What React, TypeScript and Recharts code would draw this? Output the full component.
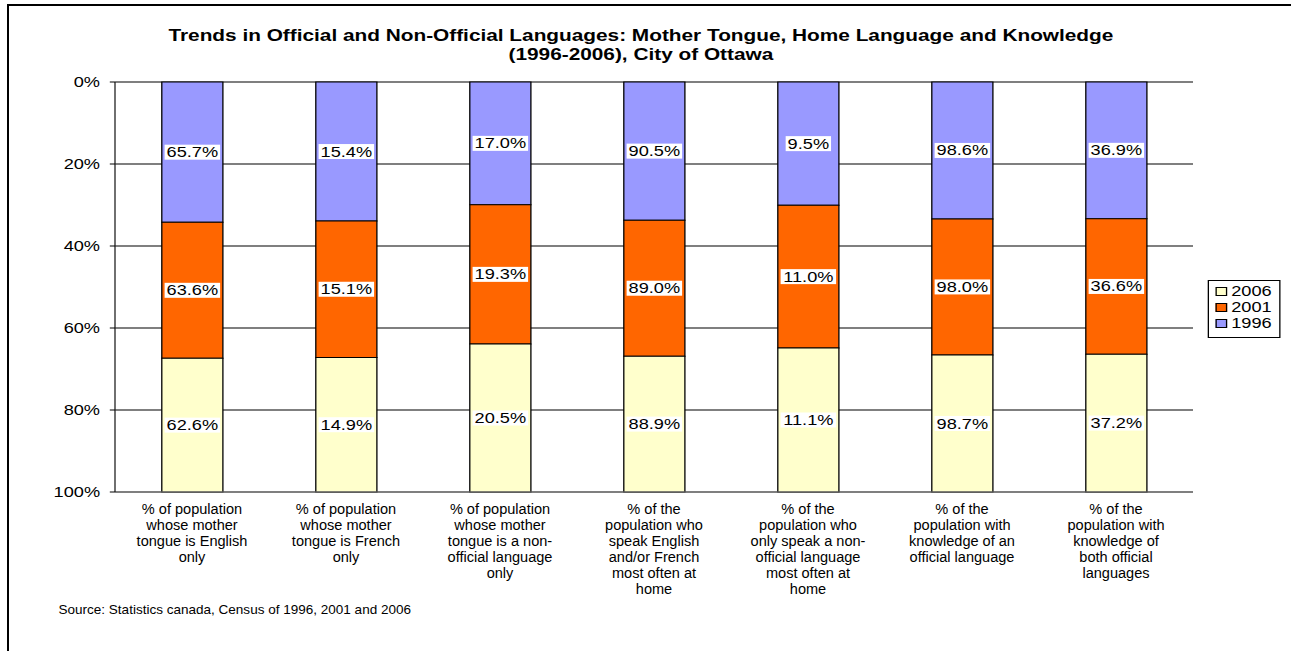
import React from 'react';
import { Bar, BarChart, CartesianGrid, LabelList, XAxis, YAxis } from 'recharts';

// source picture is stretched sideways, so the chart is laid out narrow and scaled in x
const SX = 1.3;
const W = 993;
const H = 651;
const FONT = '"Liberation Sans", Arial, sans-serif';
// category labels and source line use a condensed face in the original
const NARROW = 0.8;

const categoryLines = [
  ['% of population', 'whose mother', 'tongue is English', 'only'],
  ['% of population', 'whose mother', 'tongue is French', 'only'],
  ['% of population', 'whose mother', 'tongue is a non-', 'official language', 'only'],
  ['% of the', 'population who', 'speak English', 'and/or French', 'most often at', 'home'],
  ['% of the', 'population who', 'only speak a non-', 'official language', 'most often at', 'home'],
  ['% of the', 'population with', 'knowledge of an', 'official language'],
  ['% of the', 'population with', 'knowledge of', 'both official', 'languages'],
];
const values1996 = [65.7, 15.4, 17.0, 90.5, 9.5, 98.6, 36.9];
const values2001 = [63.6, 15.1, 19.3, 89.0, 11.0, 98.0, 36.6];
const values2006 = [62.6, 14.9, 20.5, 88.9, 11.1, 98.7, 37.2];
const yTicks = [0, 0.2, 0.4, 0.6, 0.8, 1];
const boundaryTicks = [0, 1, 2, 3, 4, 5, 6, 7];

const legendItems = [
  { label: '2006', color: '#FFFFCC' },
  { label: '2001', color: '#FF6600' },
  { label: '1996', color: '#9999FF' },
];

const data = categoryLines.map((lines, i) => ({
  name: lines.join(' '),
  v1996: values1996[i],
  v2001: values2001[i],
  v2006: values2006[i],
}));

function textWidth(s: string) {
  let w = 0;
  for (const ch of s) {
    if (ch === '.') w += 0.278;
    else if (ch === '%') w += 0.889;
    else w += 0.556;
  }
  return w * 14;
}

function ValueLabel(props: any) {
  const vb = props.viewBox ?? props;
  const { x, y, width, height } = vb;
  const text = `${Number(props.value).toFixed(1)}%`;
  const tw = textWidth(text);
  const cx = x + width / 2;
  const cy = y + height / 2;
  return (
    <g>
      <rect x={cx - tw / 2 - 1.5} y={cy - 7.5} width={tw + 3} height={15} fill="#fff" />
      <text x={cx} y={cy} dy="0.36em" textAnchor="middle" fontSize={14} fill="#000" fontFamily={FONT}>
        {text}
      </text>
    </g>
  );
}

function CategoryTick(props: any) {
  const { x, y, index } = props;
  const lines = categoryLines[index] ?? [];
  return (
    <g transform={`translate(${x},${y}) scale(${NARROW},1)`}>
      <text x={0} y={0} textAnchor="middle" fontSize={14} fill="#000" fontFamily={FONT}>
        {lines.map((line, i) => (
          <tspan key={i} x={0} dy={i === 0 ? 14.5 : 16}>
            {line}
          </tspan>
        ))}
      </text>
    </g>
  );
}

export default function App() {
  return (
    <div style={{ position: 'absolute', left: 0, top: 0, width: 1291, height: H, background: '#fff', overflow: 'hidden' }}>
      <div
        style={{
          position: 'absolute',
          left: 7,
          top: 4,
          right: -10,
          bottom: -10,
          borderTop: '2px solid #000',
          borderLeft: '2px solid #000',
        }}
      />
      <div
        style={{
          position: 'absolute',
          left: 0,
          top: 0,
          width: W,
          height: H,
          transform: `scaleX(${SX})`,
          transformOrigin: '0 0',
          fontFamily: FONT,
          color: '#000',
        }}
      >
        <div
          style={{
            position: 'absolute',
            left: 0,
            top: 26,
            width: 986,
            textAlign: 'center',
            fontSize: 16,
            fontWeight: 'bold',
            lineHeight: '19px',
          }}
        >
          Trends in Official and Non-Official Languages: Mother Tongue, Home Language and Knowledge
          <br />
          (1996-2006), City of Ottawa
        </div>

        <BarChart
          width={W}
          height={H}
          data={data}
          stackOffset="expand"
          margin={{ top: 82, right: 75.3, bottom: 49, left: 28.46 }}
          style={{ fontFamily: FONT }}
        >
          <CartesianGrid horizontal vertical={false} stroke="#000" strokeWidth={1} />
          <XAxis
            dataKey="name"
            height={110}
            interval={0}
            axisLine={{ stroke: '#808080' }}
            tickLine={false}
            tick={<CategoryTick />}
          />
          <XAxis
            xAxisId="top"
            orientation="top"
            type="number"
            domain={[0, 7]}
            ticks={boundaryTicks}
            height={0}
            axisLine={false}
            tick={false}
            tickLine={{ stroke: '#000' }}
            tickSize={4}
          />
          <YAxis
            reversed
            domain={[0, 1]}
            ticks={yTicks}
            width={60}
            tickSize={4}
            tickMargin={7.5}
            tickFormatter={(v: number) => `${Math.round(v * 100)}%`}
            tick={{ fontSize: 14, fill: '#000' }}
            axisLine={{ stroke: '#222' }}
            tickLine={{ stroke: '#000' }}
          />
          <YAxis
            yAxisId="r"
            orientation="right"
            domain={[0, 1]}
            width={0}
            tick={false}
            tickLine={false}
            axisLine={{ stroke: '#808080' }}
          />
          <Bar dataKey="v1996" stackId="a" fill="#9999FF" stroke="#000" strokeWidth={1} barSize={47} isAnimationActive={false}>
            <LabelList dataKey="v1996" position="center" content={<ValueLabel />} />
          </Bar>
          <Bar dataKey="v2001" stackId="a" fill="#FF6600" stroke="#000" strokeWidth={1} barSize={47} isAnimationActive={false}>
            <LabelList dataKey="v2001" position="center" content={<ValueLabel />} />
          </Bar>
          <Bar dataKey="v2006" stackId="a" fill="#FFFFCC" stroke="#000" strokeWidth={1} barSize={47} isAnimationActive={false}>
            <LabelList dataKey="v2006" position="center" content={<ValueLabel />} />
          </Bar>
        </BarChart>

        <div
          style={{
            position: 'absolute',
            left: 929.2,
            top: 280,
            width: 55.5,
            height: 58,
            border: '1px solid #000',
            boxSizing: 'border-box',
            paddingTop: 2,
          }}
        >
          {legendItems.map((item) => (
            <div key={item.label} style={{ display: 'flex', alignItems: 'center', height: 16, paddingLeft: 4.5 }}>
              <span
                style={{
                  display: 'inline-block',
                  width: 9,
                  height: 9,
                  boxSizing: 'border-box',
                  border: '1px solid #000',
                  background: item.color,
                  marginRight: 3.4,
                }}
              />
              <span style={{ fontSize: 14, lineHeight: '16px' }}>{item.label}</span>
            </div>
          ))}
        </div>

        <div
          style={{
            position: 'absolute',
            left: 44.6,
            top: 602,
            fontSize: 13,
            whiteSpace: 'nowrap',
            transform: `scaleX(${NARROW})`,
            transformOrigin: '0 0',
          }}
        >
          Source: Statistics canada, Census of 1996, 2001 and 2006
        </div>
      </div>
    </div>
  );
}
